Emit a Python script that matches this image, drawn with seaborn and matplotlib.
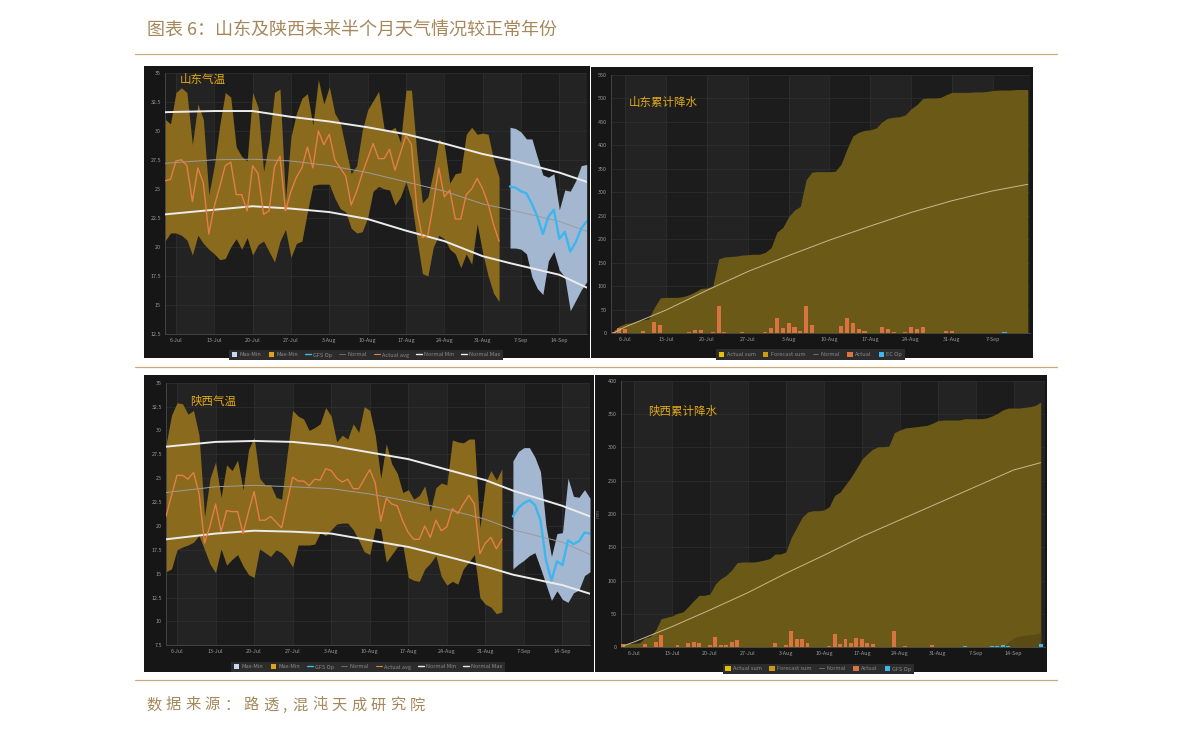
import numpy as np
import pandas as pd
import matplotlib
matplotlib.use('Agg')
import matplotlib.pyplot as plt
import matplotlib.dates as mdates
from matplotlib.patches import Patch, Rectangle
from matplotlib.lines import Line2D
from matplotlib.ticker import FuncFormatter, MultipleLocator
import seaborn as sns

W, H = 1191, 735
sns.set_theme(style='dark')
plt.rcParams['font.family'] = ['Noto Sans CJK SC', 'DejaVu Sans']
plt.rcParams['axes.unicode_minus'] = False

# ---------------- text ----------------
TITLE = "图表 6：山东及陕西未来半个月天气情况较正常年份"
SOURCE = "数据来源：路透, 混沌天成研究院"
PANEL_TITLES = ["山东气温", "山东累计降水", "陕西气温", "陕西累计降水"]

# ---------------- dates ----------------
START = pd.Timestamp('2021-07-04')      # first actual day
FC_START = pd.Timestamp('2021-09-05')   # first forecast day
NORMAL_T_DATES = ['2021-07-04', '2021-07-13', '2021-07-20', '2021-07-27', '2021-08-03', '2021-08-10',
                  '2021-08-17', '2021-08-24', '2021-08-31', '2021-09-05', '2021-09-14', '2021-09-19']

# ---------------- 山东气温 ----------------
sd_max = [31.0, 30.6, 33.3, 33.7, 33.3, 28.8, 32.3, 31.0, 24.5, 27.0, 30.5, 33.3, 32.9, 28.6, 27.8, 27.4,
          33.3, 32.0, 26.5, 29.0, 33.3, 33.6, 24.0, 29.5, 31.5, 32.8, 33.2, 30.5, 34.4, 32.3, 33.8, 31.5,
          30.7, 28.5, 26.3, 27.0, 30.0, 31.8, 32.6, 33.4, 30.2, 30.0, 30.3, 29.0, 33.5, 33.5, 28.0, 23.8,
          24.3, 26.5, 29.3, 28.8, 25.5, 26.3, 26.4, 29.7, 30.3, 29.7, 29.8, 29.7, 27.5, 26.0]
sd_min = [20.5, 21.2, 21.2, 21.0, 20.6, 19.3, 21.0, 20.3, 19.8, 19.4, 18.9, 19.0, 20.0, 20.7, 19.8, 20.8,
          19.3, 20.2, 20.5, 19.6, 18.7, 20.5, 21.5, 19.1, 20.3, 20.5, 23.0, 25.3, 25.4, 25.4, 25.4, 24.2,
          23.3, 23.0, 21.6, 21.2, 21.3, 22.5, 24.8, 25.2, 25.0, 24.9, 23.6, 24.3, 25.6, 24.0, 20.7, 17.7,
          17.5, 20.0, 21.0, 20.7, 19.8, 19.4, 18.2, 19.4, 18.5, 22.0, 19.5, 17.5, 16.0, 15.3]
sd_avg = [25.7, 25.8, 27.4, 27.5, 27.0, 23.9, 26.8, 25.5, 21.1, 23.5, 25.2, 27.0, 27.3, 24.5, 24.5, 23.1,
          27.0, 26.3, 22.8, 23.1, 26.9, 27.8, 23.1, 24.8, 26.0, 26.8, 28.6, 26.8, 30.0, 28.8, 29.7, 27.5,
          26.8, 26.1, 23.6, 24.8, 26.3, 27.6, 28.9, 27.6, 27.6, 28.4, 26.6, 28.1, 29.6, 28.8, 23.2, 20.8,
          21.0, 23.7, 26.8, 24.3, 24.9, 22.4, 22.4, 24.5, 25.0, 25.9, 25.0, 23.7, 21.9, 20.5]
sd_fc_max = [30.3, 30.2, 29.9, 29.3, 29.3, 27.7, 26.2, 26.0, 26.3, 23.2, 24.9, 24.8, 25.7, 27.0, 27.1]
sd_fc_min = [19.9, 19.9, 19.8, 19.4, 17.4, 16.4, 15.9, 18.8, 19.6, 18.0, 17.4, 14.5, 15.4, 16.3, 17.0]
sd_gfs = [25.2, 25.1, 24.8, 24.6, 23.7, 22.6, 21.1, 22.6, 23.2, 20.7, 21.3, 19.6, 20.4, 21.6, 22.2]
sd_nmax = [31.6, 31.7, 31.7, 31.2, 30.8, 30.3, 29.7, 28.9, 28.0, 27.5, 26.4, 25.6]
sd_nmean = [27.2, 27.5, 27.55, 27.4, 27.0, 26.4, 25.6, 24.8, 23.7, 23.2, 22.2, 21.35]
sd_nmin = [22.8, 23.2, 23.5, 23.3, 23.0, 22.4, 21.4, 20.5, 19.2, 18.6, 17.6, 16.5]

# ---------------- 陕西气温 ----------------
sx_max = [28.5, 31.6, 32.9, 32.8, 31.7, 32.1, 29.5, 21.0, 25.0, 26.7, 23.0, 26.4, 25.8, 26.9, 23.8, 28.0,
          29.3, 25.0, 24.3, 24.3, 23.0, 22.8, 27.5, 32.1, 31.5, 31.2, 30.0, 30.3, 30.7, 32.4, 31.5, 28.8,
          29.5, 29.1, 30.7, 29.8, 32.5, 32.1, 29.5, 25.0, 28.6, 26.5, 25.5, 23.5, 23.8, 22.8, 23.2, 24.2,
          21.5, 24.0, 24.5, 24.3, 29.0, 28.8, 28.7, 29.1, 29.1, 19.8, 24.5, 25.8, 24.8, 26.0]
sx_min = [15.2, 15.5, 17.5, 17.8, 18.0, 18.3, 19.0, 17.5, 16.0, 15.1, 17.6, 15.9, 16.5, 17.0, 15.8, 14.9,
          14.6, 17.6, 17.2, 16.8, 17.5, 17.2, 16.6, 15.7, 18.0, 18.0, 18.0, 18.1, 19.3, 19.0, 19.6, 20.2,
          20.3, 20.3, 19.6, 18.5, 17.3, 17.0, 19.8, 19.7, 16.2, 17.0, 17.8, 18.0, 14.6, 14.3, 14.2, 15.5,
          16.1, 16.9, 14.7, 13.8, 14.2, 13.9, 15.5, 16.2, 17.0, 12.5, 11.8, 11.5, 10.8, 11.0]
sx_avg = [21.0, 23.2, 25.3, 25.3, 24.9, 25.6, 23.4, 18.2, 20.0, 22.3, 19.4, 21.6, 21.5, 21.5, 19.2, 21.5,
          23.6, 20.6, 20.6, 21.0, 20.4, 19.8, 22.5, 25.1, 24.7, 24.7, 24.2, 24.9, 24.8, 26.0, 25.8, 25.0,
          24.6, 24.9, 23.9, 23.9, 24.9, 25.9, 24.5, 20.5, 22.9, 22.3, 22.1, 20.5, 19.3, 18.6, 18.6, 20.0,
          18.8, 20.6, 19.5, 19.9, 21.8, 21.3, 22.3, 23.2, 22.3, 17.1, 18.2, 18.8, 17.6, 18.6]
sx_fc_max = [26.8, 27.8, 28.2, 28.2, 27.2, 25.7, 20.0, 16.8, 19.2, 19.3, 25.0, 23.1, 23.0, 23.8, 22.9]
sx_fc_min = [15.5, 16.0, 16.4, 16.9, 17.2, 15.6, 13.9, 12.2, 13.2, 12.3, 12.0, 13.0, 13.3, 14.8, 15.2]
sx_gfs = [21.0, 21.9, 22.4, 22.7, 22.2, 20.6, 16.4, 14.3, 16.3, 15.9, 18.5, 18.1, 18.4, 19.3, 19.2]
sx_nmax = [28.3, 28.8, 28.9, 28.8, 28.4, 27.7, 27.0, 25.9, 24.8, 23.7, 22.1, 21.0]
sx_nmean = [23.5, 24.1, 24.25, 24.1, 23.9, 23.35, 22.6, 21.75, 20.7, 19.6, 18.3, 17.0]
sx_nmin = [18.6, 19.2, 19.5, 19.4, 19.2, 18.5, 17.8, 16.8, 15.75, 14.9, 13.8, 12.9]

# ---------------- 山东累计降水 ----------------
sd_cum = [5, 15, 20, 22, 25, 28, 30, 55, 75, 76, 76, 76, 78, 82, 88, 95, 96, 100, 158, 162, 163, 164, 166,
          167, 168, 168, 172, 182, 215, 225, 248, 262, 270, 327, 343, 344, 344, 344, 345, 360, 392, 420,
          428, 432, 433, 437, 450, 458, 460, 461, 465, 478, 487, 500, 501, 501, 502, 508, 513, 513, 513,
          513, 514, 514, 515, 517, 518, 518, 518, 519, 519, 519]
sd_rain = [3, 10, 8, 0, 0, 5, 0, 24, 18, 0, 0, 0, 0, 3, 6, 6, 0, 3, 57, 3, 0, 0, 2, 0, 0, 0, 3, 10, 33, 10,
           21, 12, 5, 58, 16, 0, 0, 0, 0, 14, 31, 22, 9, 4, 0, 0, 12, 9, 3, 0, 3, 12, 8, 13, 0, 0, 0, 5, 5,
           0, 0, 0]
sd_ec = [0, 0, 0, 0, 2, 0, 0]            # EC Op, from 2021-09-05
SD_NORMAL_P_DATES = ['2021-07-04', '2021-07-06', '2021-07-13', '2021-07-20', '2021-07-27', '2021-08-03',
                     '2021-08-10', '2021-08-17', '2021-08-24', '2021-08-31', '2021-09-07', '2021-09-13']
sd_normal_p = [0, 13, 49, 91, 131, 165, 198, 228, 257, 282, 303, 317]

# ---------------- 陕西累计降水 ----------------
sx_cum = [5, 6, 6, 7, 14, 16, 26, 43, 45, 47, 51, 53, 61, 70, 78, 78, 80, 95, 103, 108, 116, 127, 128, 128,
          128, 129, 131, 133, 140, 140, 143, 165, 180, 195, 203, 205, 205, 206, 211, 228, 233, 244, 255,
          268, 282, 290, 297, 301, 301, 302, 322, 326, 329, 330, 331, 332, 333, 336, 340, 341, 341, 341,
          341, 343, 343, 343, 343, 344, 347, 351, 356, 359, 359, 359, 360, 361, 363, 368]
sx_rain = [5, 0, 0, 0, 5, 0, 8, 19, 0, 0, 3, 0, 7, 8, 7, 0, 3, 16, 4, 4, 8, 11, 0, 0, 0, 0, 0, 0, 6, 0, 4,
           24, 13, 13, 6, 0, 0, 0, 2, 20, 5, 12, 6, 14, 13, 7, 5, 0, 0, 0, 24, 0, 2, 0, 0, 0, 0, 4, 0, 0,
           0, 0]
sx_gfs_p = [0, 2, 0, 0, 0, 0, 2, 2, 4, 2, 0, 0, 0, 1, 1, 5]          # GFS Op, from 2021-09-04
sx_fc_sum = [0, 8, 14, 17, 18, 19, 20, 22]                              # Forecast sum, from 2021-09-12
SX_NORMAL_P_DATES = ['2021-07-04', '2021-07-06', '2021-07-13', '2021-07-20', '2021-07-27', '2021-08-03',
                     '2021-08-10', '2021-08-17', '2021-08-24', '2021-08-31', '2021-09-07', '2021-09-14',
                     '2021-09-19']
sx_normal_p = [2, 8, 31, 56, 82, 111, 138, 166, 191, 216, 241, 266, 277]

# ---------------- colours ----------------
OUTER = '#161616'
PLOT_DARK = '#1c1c1c'
PLOT_LIGHT = '#232323'
GRID = '#303030'
TXT = '#9a9a9a'
BAND_ACT = '#8a6a1c'
BAND_FC = '#a3b7d1'
GFS_C = '#3db6ee'
AVG_C = '#e37e47'
NORM_C = '#9c9c9c'
NMM_C = '#ececec'
AREA_C = '#6b5917'
AREA_FC = '#5a4b14'
BAR_C = '#d9733f'
GOLD = '#e3a917'
TAN = '#a5875a'
RULE = '#c9ab7c'

fig = plt.figure(figsize=(W / 100, H / 100), dpi=100)
fig.patch.set_facecolor('white')


def fx(px):
    return px / W


def fy(py):
    return 1 - py / H


def panel_bg(x0, y0, x1, y1):
    fig.add_artist(Rectangle((fx(x0), fy(y1)), fx(x1) - fx(x0), fy(y0) - fy(y1),
                             transform=fig.transFigure, facecolor=OUTER, edgecolor='none', zorder=0))


def make_ax(x0, y0, x1, y1):
    ax = fig.add_axes([fx(x0), fy(y1), fx(x1) - fx(x0), fy(y0) - fy(y1)])
    ax.set_facecolor(PLOT_DARK)
    ax.set_axisbelow(True)
    return ax


def style_ax(ax, xlim, ticks, ylim, ystep):
    # weekly alternating bands
    band_start = pd.Timestamp('2021-07-06')
    while band_start < xlim[1]:
        ax.axvspan(band_start, band_start + pd.Timedelta(days=7), color=PLOT_LIGHT, lw=0, zorder=0)
        band_start += pd.Timedelta(days=14)
    ax.set_xlim(*xlim)
    ax.set_ylim(*ylim)
    ax.set_xticks(ticks)
    ax.xaxis.set_major_formatter(FuncFormatter(
        lambda v, p: f"{mdates.num2date(v).day}-{mdates.num2date(v).strftime('%b')}"))
    ax.yaxis.set_major_locator(MultipleLocator(ystep))
    ax.yaxis.set_major_formatter(FuncFormatter(lambda v, p: f"{v:g}"))
    ax.grid(True, color=GRID, lw=0.5)
    ax.tick_params(labelsize=3.9, colors=TXT, length=0, pad=3)
    for s in ['top', 'right']:
        ax.spines[s].set_visible(False)
    for s in ['left', 'bottom']:
        ax.spines[s].set_color('#4a4a4a')
        ax.spines[s].set_linewidth(0.6)
    ax.set_xlabel('')
    ax.set_ylabel('')


def temp_panel(ax, mx, mn, avg, fmx, fmn, gfs, nmax, nmean, nmin, ylim):
    d_act = pd.date_range(START, periods=len(mx))
    d_fc = pd.date_range(FC_START, periods=len(fmx))
    nd = pd.to_datetime(NORMAL_T_DATES)
    ax.fill_between(d_act, mn, mx, color=BAND_ACT, lw=0, zorder=2)
    ax.fill_between(d_fc, fmn, fmx, color=BAND_FC, lw=0, zorder=2)
    sns.lineplot(x=nd, y=nmean, ax=ax, color=NORM_C, lw=0.7, zorder=3)
    sns.lineplot(x=nd, y=nmax, ax=ax, color=NMM_C, lw=1.4, zorder=3)
    sns.lineplot(x=nd, y=nmin, ax=ax, color=NMM_C, lw=1.4, zorder=3)
    sns.lineplot(x=d_act, y=avg, ax=ax, color=AVG_C, lw=1.0, zorder=4)
    sns.lineplot(x=d_fc, y=gfs, ax=ax, color=GFS_C, lw=1.7, zorder=4)
    ticks = pd.date_range('2021-07-06', '2021-09-14', freq='7D')
    style_ax(ax, (START, pd.Timestamp('2021-09-19')), ticks, ylim, 2.5)


def temp_legend(ax, cx, top):
    handles = [Patch(facecolor='#c8d8ee', edgecolor='none', label='Max-Min'),
               Patch(facecolor='#e0a11c', edgecolor='none', label='Max-Min'),
               Line2D([], [], color=GFS_C, lw=1.0, label='GFS Op'),
               Line2D([], [], color='#777777', lw=0.6, label='Normal'),
               Line2D([], [], color=AVG_C, lw=0.8, label='Actual avg'),
               Line2D([], [], color=NMM_C, lw=1.0, label='Normal Min'),
               Line2D([], [], color=NMM_C, lw=1.0, label='Normal Max')]
    leg = fig.legend(handles=handles, loc='upper center', bbox_to_anchor=(fx(cx), fy(top)),
                     ncol=7, fontsize=4, frameon=True, facecolor='#2c2c2c', edgecolor='none',
                     framealpha=1, handlelength=1.0, handleheight=0.9, handletextpad=0.4,
                     columnspacing=1.3, borderpad=0.45, fancybox=False)
    for t in leg.get_texts():
        t.set_color('#8a8a8a')


def precip_legend(cx, top, fc_name):
    handles = [Patch(facecolor='#e6c000', edgecolor='none', label='Actual sum'),
               Patch(facecolor='#c99a12', edgecolor='none', label='Forecast sum'),
               Line2D([], [], color='#777777', lw=0.6, label='Normal'),
               Patch(facecolor=BAR_C, edgecolor='none', label='Actual'),
               Patch(facecolor=GFS_C, edgecolor='none', label=fc_name)]
    leg = fig.legend(handles=handles, loc='upper center', bbox_to_anchor=(fx(cx), fy(top)),
                     ncol=5, fontsize=4, frameon=True, facecolor='#2c2c2c', edgecolor='none',
                     framealpha=1, handlelength=1.0, handleheight=0.9, handletextpad=0.4,
                     columnspacing=1.3, borderpad=0.45, fancybox=False)
    for t in leg.get_texts():
        t.set_color('#8a8a8a')


# ---------- panel backgrounds ----------
panel_bg(144, 66, 590, 357.5)
panel_bg(591, 67, 1032.5, 357.5)
panel_bg(144, 375, 594, 672)
panel_bg(595, 375, 1046.5, 672)

# ---------- 山东气温 ----------
ax1 = make_ax(165, 72.7, 586.7, 334)
temp_panel(ax1, sd_max, sd_min, sd_avg, sd_fc_max, sd_fc_min, sd_gfs, sd_nmax, sd_nmean, sd_nmin, (12.5, 35))
temp_legend(ax1, 366, 347)

# ---------- 陕西气温 ----------
ax3 = make_ax(166, 382.7, 590, 645.3)
temp_panel(ax3, sx_max, sx_min, sx_avg, sx_fc_max, sx_fc_min, sx_gfs, sx_nmax, sx_nmean, sx_nmin, (7.5, 35))
temp_legend(ax3, 368, 659)

# ---------- 山东累计降水 ----------
ax2 = make_ax(610.7, 75, 1030, 333)
d = pd.date_range(START, periods=len(sd_cum))
ax2.fill_between(d, 0, sd_cum, color=AREA_C, lw=0, zorder=2)
ax2.bar(pd.date_range(START, periods=len(sd_rain)), sd_rain, width=0.7, color=BAR_C, lw=0, zorder=3)
ax2.bar(pd.date_range(FC_START, periods=len(sd_ec)), sd_ec, width=0.7, color=GFS_C, lw=0, zorder=3)
sns.lineplot(x=pd.to_datetime(SD_NORMAL_P_DATES), y=sd_normal_p, ax=ax2, color='#c9b98a', lw=0.7, zorder=4)
style_ax(ax2, (START - pd.Timedelta(hours=12), START + pd.Timedelta(hours=int(71.4 * 24))),
         pd.date_range('2021-07-06', '2021-09-07', freq='7D'), (0, 550), 50)
precip_legend(810.5, 346.7, 'EC Op')

# ---------- 陕西累计降水 ----------
ax4 = make_ax(620.7, 380.7, 1045, 647.3)
d = pd.date_range(START, periods=len(sx_cum))
ax4.fill_between(d, 0, sx_cum, color=AREA_C, lw=0, zorder=2)
ax4.fill_between(pd.date_range('2021-09-12', periods=len(sx_fc_sum)), 0, sx_fc_sum,
                 color=AREA_FC, lw=0, zorder=2.5)
ax4.bar(pd.date_range(START, periods=len(sx_rain)), sx_rain, width=0.7, color=BAR_C, lw=0, zorder=3)
ax4.bar(pd.date_range('2021-09-04', periods=len(sx_gfs_p)), sx_gfs_p, width=0.7, color=GFS_C, lw=0, zorder=3)
sns.lineplot(x=pd.to_datetime(SX_NORMAL_P_DATES), y=sx_normal_p, ax=ax4, color='#c9b98a', lw=0.7, zorder=4)
style_ax(ax4, (START - pd.Timedelta(hours=11), START + pd.Timedelta(hours=int(77.8 * 24))),
         pd.date_range('2021-07-06', '2021-09-14', freq='7D'), (0, 400), 50)
precip_legend(818.3, 661, 'GFS Op')
fig.text(fx(598), fy(513), 'mm', rotation=90, fontsize=3.5, color='#707070', ha='center', va='center')

# ---------- panel titles ----------
for (px, py), t in zip([(180, 79.5), (629, 102), (190, 401.5), (647.7, 411)], PANEL_TITLES):
    fig.text(fx(px), fy(py), t, fontsize=8.3, color=GOLD, ha='left', va='center')

# ---------- report text and rules ----------
fig.text(fx(147), fy(31), TITLE, fontsize=13, color=TAN, ha='left', va='center')
for yy in (54, 366.5, 680):
    fig.add_artist(Line2D([fx(135), fx(1057)], [fy(yy), fy(yy)], transform=fig.transFigure,
                          color=RULE, lw=0.9))

x = 146
for ch in SOURCE:
    fig.text(fx(x), fy(705), ch, fontsize=11, color=TAN, ha='left', va='center')
    if ch == ',':
        x += 6
    elif ch == ' ':
        x += 4
    else:
        x += 19.5

fig.savefig('out.png', dpi=100, facecolor='white')
